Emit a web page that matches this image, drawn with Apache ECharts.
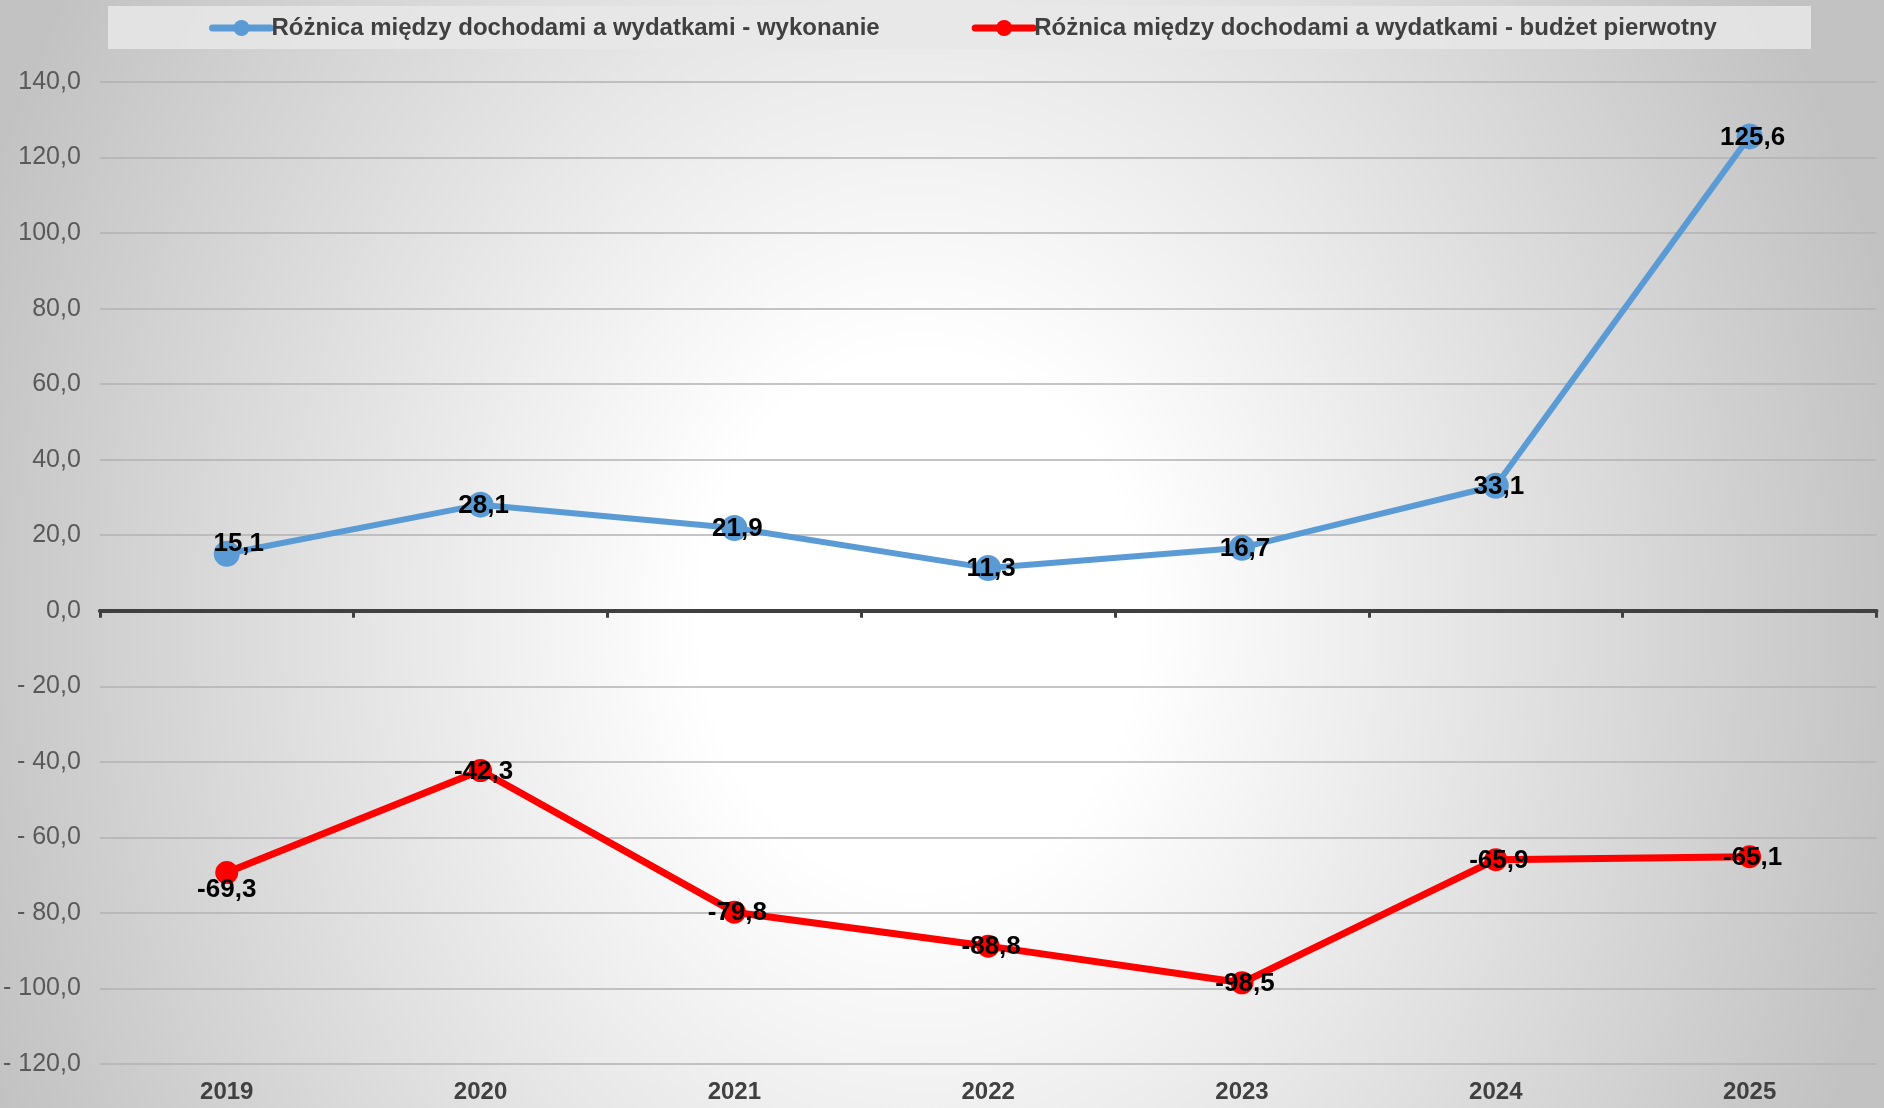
<!DOCTYPE html>
<html>
<head>
<meta charset="utf-8">
<script src="https://cdn.jsdelivr.net/npm/echarts@6/dist/echarts.min.js"></script>
<style>
  html, body { margin: 0; padding: 0; }
  body {
    width: 1884px; height: 1108px; overflow: hidden;
    background: radial-gradient(ellipse 1000px 1200px at 920px 620px, #ffffff 0%, #ffffff 22%, #c2c2c2 100%);
  }
  #main { width: 1884px; height: 1108px; }
</style>
</head>
<body>
<div id="main"></div>
<script>
// lata
const years = ['2019', '2020', '2021', '2022', '2023', '2024', '2025']
// różnica - wykonanie
const wykonanie = [15.1, 28.1, 21.9, 11.3, 16.7, 33.1, 125.6]
// różnica - budżet pierwotny
const budzet = [-69.3, -42.3, -79.8, -88.8, -98.5, -65.9, -65.1]
const seriesNames = [
  'Różnica między dochodami a wydatkami - wykonanie',
  'Różnica między dochodami a wydatkami - budżet pierwotny'
]

const FONT = '"Liberation Sans", Arial, sans-serif'
const fmt = v => v.toFixed(1).replace('.', ',')
const fmtAxis = v => v < 0 ? '- ' + fmt(-v) : fmt(v)

const myChart = echarts.init(document.getElementById('main'))

const labelStyle = {
  show: true,
  position: 'inside',
  offset: [3, 1],
  color: '#000',
  fontFamily: FONT,
  fontWeight: 'bold',
  fontSize: 26,
  formatter: p => fmt(p.value)
}

myChart.setOption({
  backgroundColor: 'transparent',
  animation: false,
  textStyle: { fontFamily: FONT },
  graphic: [{
    type: 'rect',
    shape: { x: 108, y: 6, width: 1703, height: 43 },
    style: { fill: 'rgba(232,232,232,0.85)' },
    z: -1
  }],
  legend: {
    left: 204,
    top: 11,
    itemGap: 92,
    itemWidth: 58,
    itemHeight: 20,
    lineStyle: { width: 7, cap: 'round' },
    textStyle: { color: '#404040', fontSize: 24, fontWeight: 'bold', fontFamily: FONT, padding: [0, 0, 0, -4] },
    data: seriesNames
  },
  grid: { left: 97.5, right: 7.5, top: 82, bottom: 44 },
  xAxis: [
    {
      type: 'category',
      data: years,
      position: 'top',
      axisLine: { onZero: true, lineStyle: { color: '#404040', width: 4 } },
      axisTick: { show: true, inside: true, length: 7, lineStyle: { color: '#404040', width: 3 } },
      axisLabel: { show: false }
    },
    {
      type: 'category',
      data: years,
      position: 'bottom',
      axisLine: { show: false, onZero: false },
      axisTick: { show: false },
      axisLabel: { color: '#404040', fontSize: 24, fontWeight: 'bold', fontFamily: FONT, margin: 16 }
    }
  ],
  yAxis: {
    type: 'value',
    min: -120,
    max: 140,
    interval: 20,
    axisLine: { show: false },
    axisTick: { show: false },
    splitLine: { lineStyle: { color: '#b2b2b2', width: 1.5 } },
    axisLabel: { color: '#595959', fontSize: 25, fontFamily: FONT, margin: 19, formatter: fmtAxis }
  },
  series: [
    {
      name: seriesNames[0],
      type: 'line',
      xAxisIndex: 0,
      data: wykonanie.map((v, i) => i === 0 ? { value: v, label: { offset: [12, -10] } } : v),
      symbol: 'circle',
      symbolSize: 26,
      lineStyle: { color: '#5b9bd5', width: 6 },
      itemStyle: { color: '#5b9bd5' },
      label: labelStyle,
      z: 3
    },
    {
      name: seriesNames[1],
      type: 'line',
      xAxisIndex: 0,
      data: budzet.map((v, i) => i === 0 ? { value: v, label: { offset: [0, 17] } } : v),
      symbol: 'circle',
      symbolSize: 23,
      lineStyle: { color: '#ff0000', width: 7 },
      itemStyle: { color: '#ff0000' },
      label: labelStyle,
      z: 3
    }
  ]
})
</script>
</body>
</html>
